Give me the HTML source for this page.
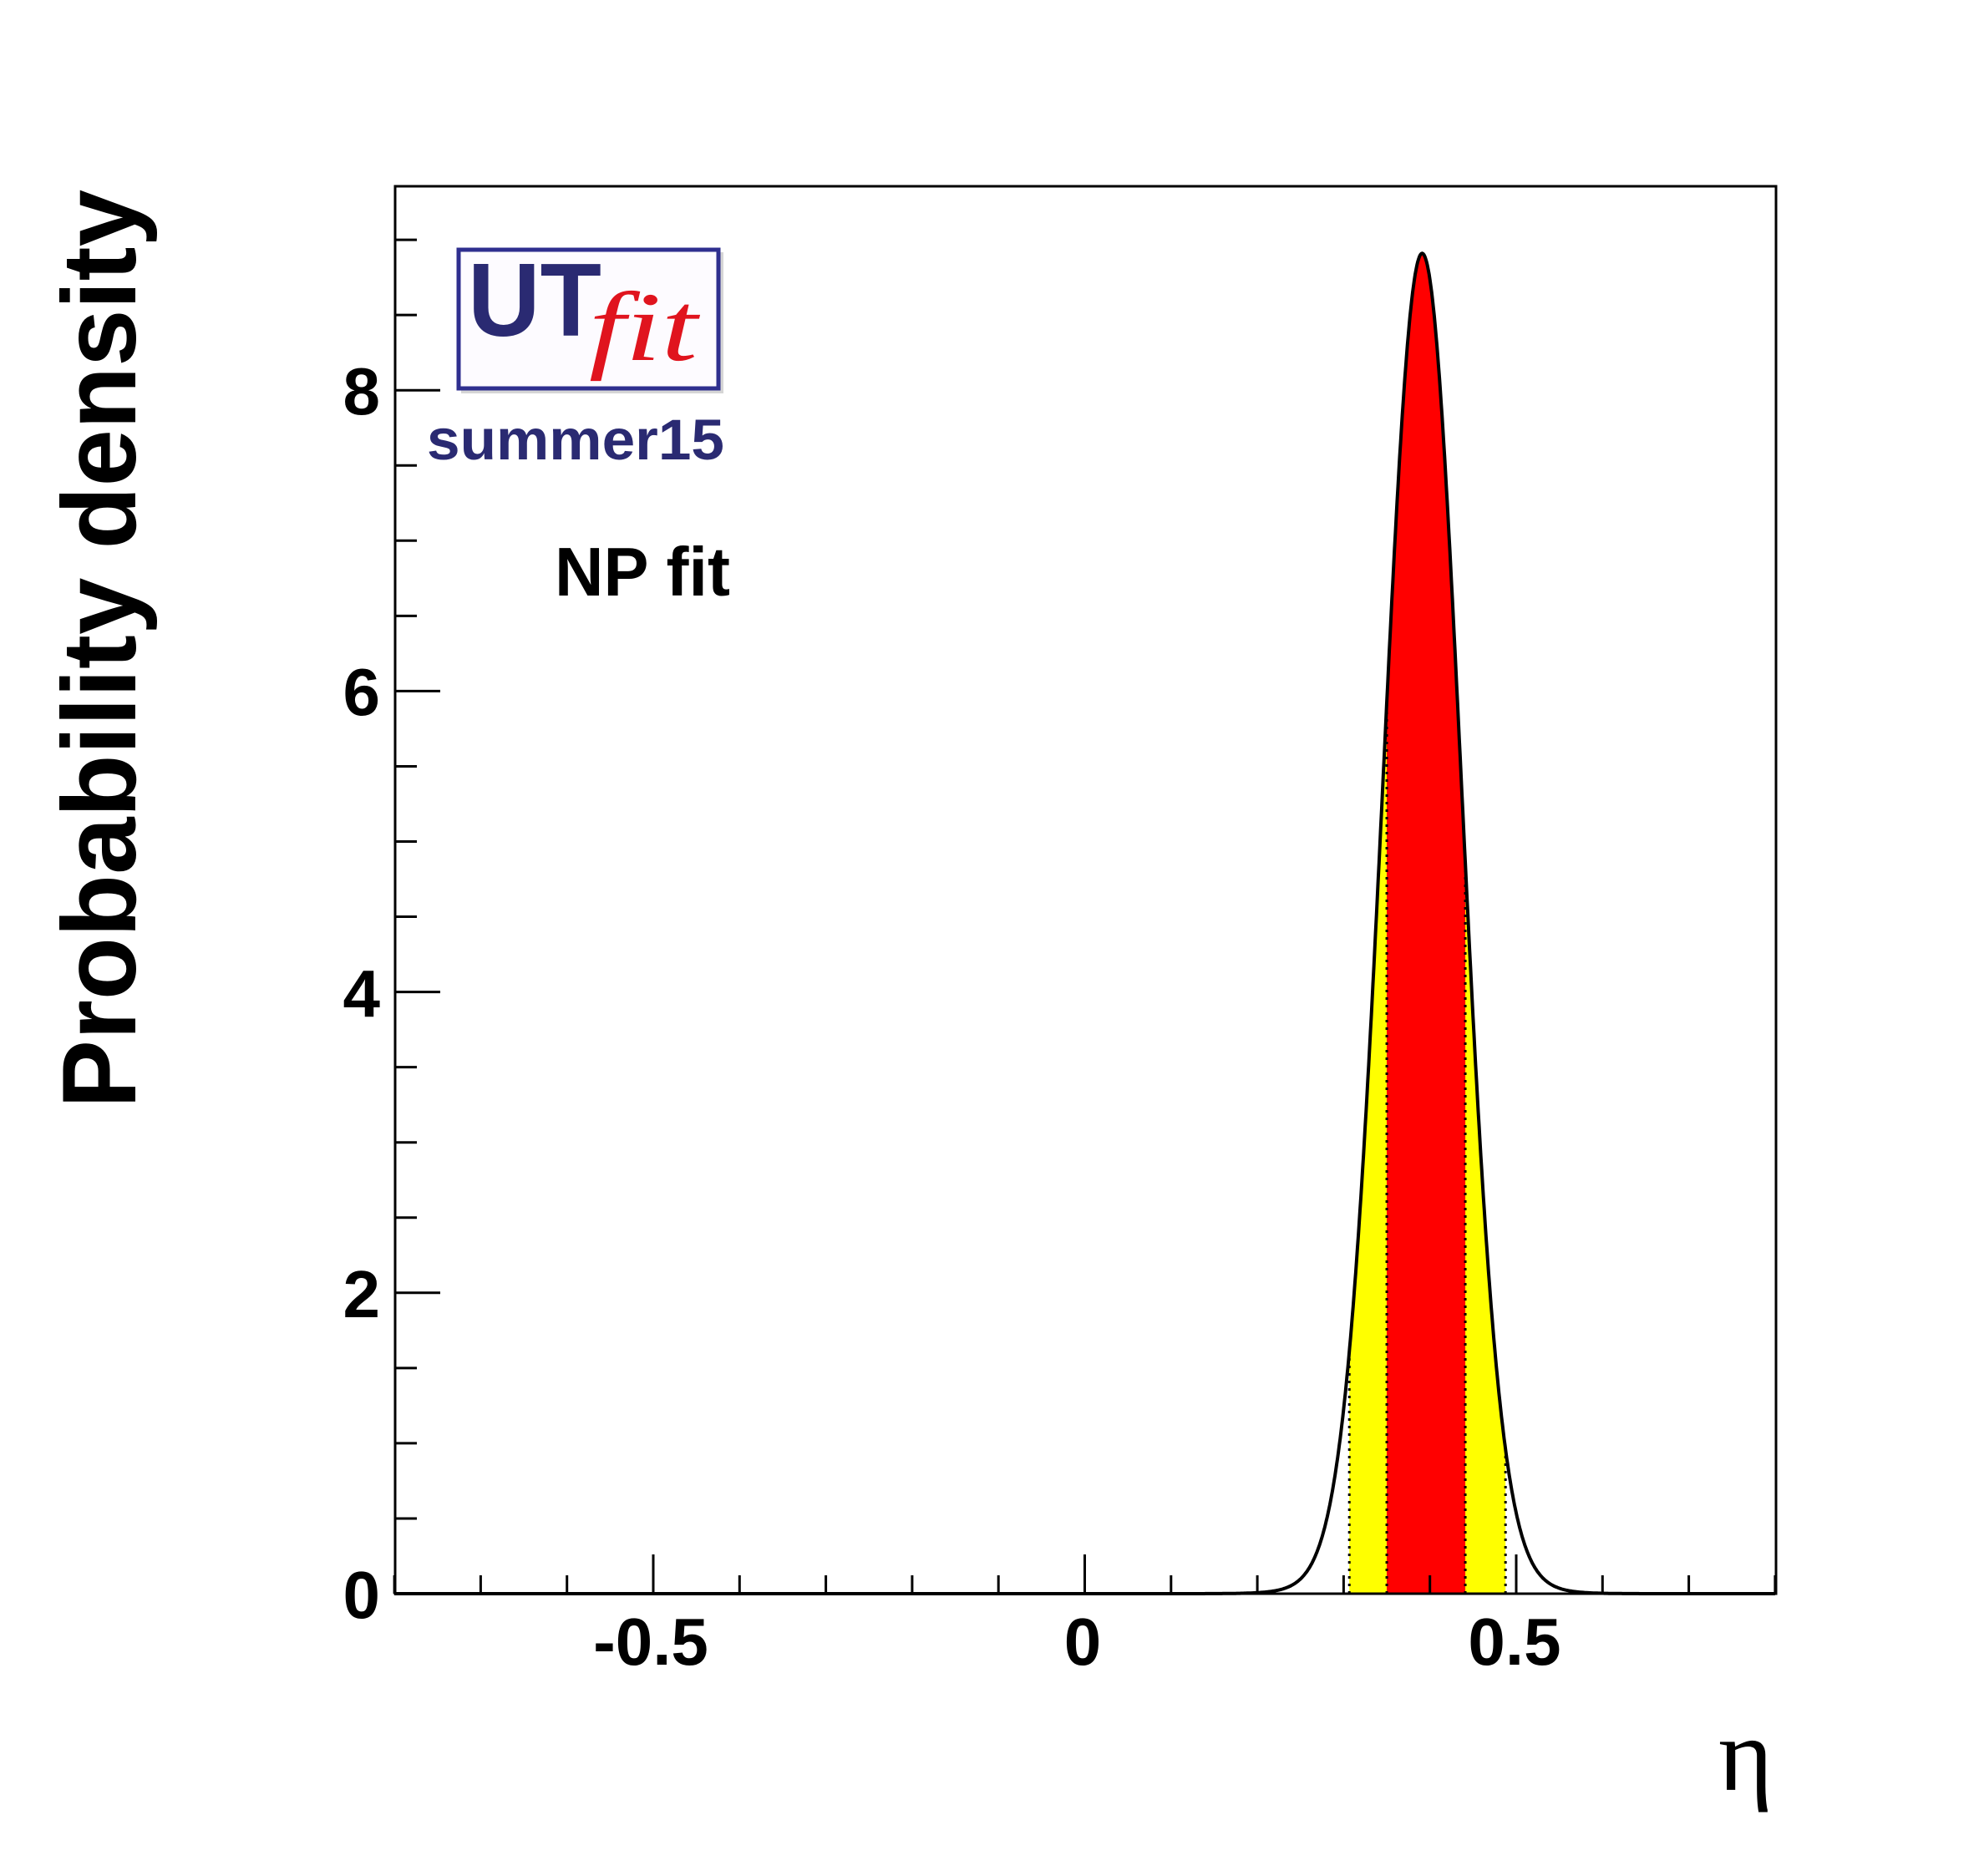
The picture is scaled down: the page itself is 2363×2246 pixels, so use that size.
<!DOCTYPE html>
<html><head><meta charset="utf-8"><style>
html,body{margin:0;padding:0;background:#fff;}
svg{display:block;}
</style></head><body>
<svg id="s" width="2363" height="2246" viewBox="0 0 2363 2246" xmlns="http://www.w3.org/2000/svg">
<rect width="2363" height="2246" fill="#fff"/>
<g id="fills"></g>
<g id="ticks" stroke="#000" stroke-width="3"></g>
<rect x="473" y="223" width="1653" height="1685" fill="none" stroke="#000" stroke-width="3"/>
<g font-family="Liberation Sans, Arial, sans-serif" font-weight="bold" font-size="80" fill="#000">
<text x="455" y="1937" text-anchor="end">0</text>
<text x="455" y="1577" text-anchor="end">2</text>
<text x="455" y="1217" text-anchor="end">4</text>
<text x="455" y="856" text-anchor="end">6</text>
<text x="455" y="496" text-anchor="end">8</text>
<text x="779" y="1993" text-anchor="middle">-0.5</text>
<text x="1296" y="1993" text-anchor="middle">0</text>
<text x="1813" y="1993" text-anchor="middle">0.5</text>
<text x="664" y="713" font-size="83" textLength="210" lengthAdjust="spacingAndGlyphs">NP fit</text>
<text x="511" y="550" font-size="69" fill="#2a2a72" textLength="356" lengthAdjust="spacingAndGlyphs">summer15</text>
<text transform="translate(162,1327) rotate(-90)" font-size="125" textLength="1100" lengthAdjust="spacingAndGlyphs">Probability density</text>
</g>
<text x="2057" y="2143" font-family="Liberation Serif, serif" font-size="125" fill="#000">η</text>
<!-- logo -->
<rect x="552" y="302" width="314" height="169" fill="#bbb" opacity="0.6"/>
<rect x="549" y="299" width="311" height="166" fill="#fdfbff" stroke="#2f2f8f" stroke-width="5"/>
<text x="560" y="402" font-family="Liberation Sans, Arial, sans-serif" font-weight="bold" font-size="124" fill="#2a2a72" textLength="160" lengthAdjust="spacingAndGlyphs">UT</text>
<text x="705" y="431" font-family="Liberation Serif, serif" font-style="italic" font-size="118" fill="#e0141e" textLength="130" lengthAdjust="spacingAndGlyphs">fit</text>
<g id="curve"></g>
</svg>
<script>
var NS="http://www.w3.org/2000/svg";
function X(u){return 1298.5+1033*u;}
function Y(v){return 1908-180.1*v;}
var mu=0.391,sg=0.0448,A=8.91;
function f(u){var z=(u-mu)/sg;return A*(0.96*Math.exp(-0.5*z*z)+0.04*Math.exp(-0.5*z*z/2.2));}
function area(a,b,col){
  var d="M"+X(a)+","+Y(0);
  for(var i=0;i<=200;i++){var u=a+(b-a)*i/200;d+=" L"+X(u).toFixed(1)+","+Y(f(u)).toFixed(1);}
  d+=" L"+X(b)+","+Y(0)+" Z";
  var p=document.createElementNS(NS,"path");p.setAttribute("d",d);p.setAttribute("fill",col);
  document.getElementById("fills").appendChild(p);
}
area(0.3066,0.4876,"#ffff00");
area(0.350,0.441,"#ff0000");
[0.3066,0.350,0.441,0.4876].forEach(function(u){
  var l=document.createElementNS(NS,"line");
  l.setAttribute("x1",X(u));l.setAttribute("x2",X(u));
  l.setAttribute("y1",Y(0));l.setAttribute("y2",Y(f(u)));
  l.setAttribute("stroke","#000");l.setAttribute("stroke-width","3");l.setAttribute("stroke-dasharray","3,6");
  document.getElementById("fills").appendChild(l);
});
var d="";
for(var i=0;i<=1600;i++){var u=-0.8+1.6*i/1600;d+=(i?" L":"M")+X(u).toFixed(1)+","+Y(f(u)).toFixed(1);}
var c=document.createElementNS(NS,"path");c.setAttribute("d",d);c.setAttribute("fill","none");
c.setAttribute("stroke","#000");c.setAttribute("stroke-width","4");
document.getElementById("curve").appendChild(c);
var t=document.getElementById("ticks");
function ln(x1,y1,x2,y2){var l=document.createElementNS(NS,"line");l.setAttribute("x1",x1);l.setAttribute("y1",y1);l.setAttribute("x2",x2);l.setAttribute("y2",y2);t.appendChild(l);}
for(var k=0;k<=18;k++){var v=k*0.5;var y=Y(v);if(y<223)break;ln(473,y,473+(k%4==0?54:26),y);}
for(var k=-8;k<=8;k++){var x=X(k*0.1);ln(x,1908,x,1908-(k%5==0?47:22));}
</script>
</body></html>
